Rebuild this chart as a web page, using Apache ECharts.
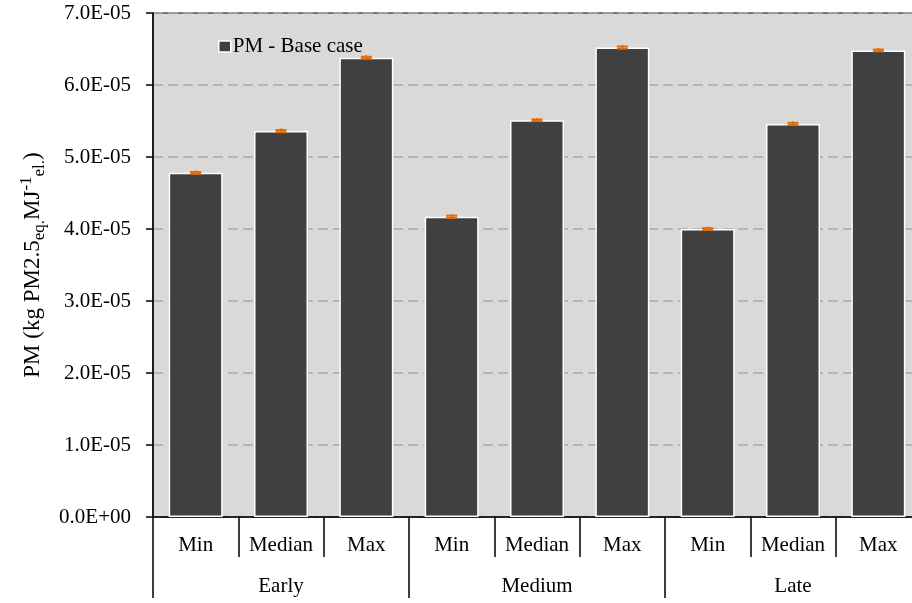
<!DOCTYPE html>
<html>
<head>
<meta charset="utf-8">
<script src="https://cdn.jsdelivr.net/npm/echarts@6/dist/echarts.min.js"></script>
<style>
  html, body { margin: 0; padding: 0; background: #ffffff; overflow: hidden; }
  #chart { width: 930px; height: 603px; }
</style>
</head>
<body>
<div id="chart"></div>
<script>
// Sub-categories (scenario) and their grouping (harvest time)
const categories = ['Min', 'Median', 'Max', 'Min', 'Median', 'Max', 'Min', 'Median', 'Max'];
const groups = ['Early', 'Medium', 'Late'];
// PM emissions, kg PM2.5 eq. per MJ electricity
const pmValues = [4.78e-5, 5.36e-5, 6.38e-5, 4.17e-5, 5.51e-5, 6.52e-5, 4.00e-5, 5.46e-5, 6.48e-5];
const pmErrors = [1.2e-7, 1.5e-7, 1.2e-7, 1.5e-7, 1.2e-7, 1.5e-7, 1.2e-7, 1.5e-7, 1.2e-7];
const seriesName = 'PM - Base case';

const FONT = "'Liberation Serif', 'Times New Roman', serif";

function sciLabel(v) {
  const s = Number(v).toExponential(1).toUpperCase(); // e.g. 7.0E-5
  const m = s.match(/^(-?[\d.]+)E([+-])(\d+)$/);
  if (!m) return s;
  const exp = m[3].length < 2 ? '0' + m[3] : m[3];
  return m[1] + 'E' + m[2] + exp;
}

const chart = echarts.init(document.getElementById('chart'), null, { renderer: 'canvas' });

const errorData = pmValues.map((v, i) => [i, v, pmErrors[i]]);

chart.setOption({
  animation: false,
  backgroundColor: '#ffffff',
  textStyle: { fontFamily: FONT, color: '#000' },
  grid: {
    left: 153, top: 13, right: 9, bottom: 86,
    show: true, backgroundColor: '#d9d9d9', borderColor: '#000', borderWidth: 1
  },
  legend: {
    data: [seriesName],
    left: 213, top: 31,
    itemWidth: 12, itemHeight: 11, itemGap: 5,
    icon: 'rect',
    itemStyle: { borderColor: '#ffffff', borderWidth: 1.5 },
    textStyle: { fontFamily: FONT, fontSize: 21, color: '#000', padding: [0, 0, 0, -3] }
  },
  xAxis: [
    {
      type: 'category',
      data: categories,
      position: 'bottom',
      axisLine: { show: true, lineStyle: { color: '#000', width: 1.5 } },
      axisTick: { show: true, length: 40, lineStyle: { color: '#000', width: 1.5 } },
      axisLabel: { fontFamily: FONT, fontSize: 21, color: '#000', margin: 18, interval: 0 },
      splitLine: { show: false }
    },
    {
      type: 'category',
      data: groups,
      position: 'bottom',
      axisLine: { show: false },
      axisTick: { show: true, length: 81, lineStyle: { color: '#000', width: 1.5 } },
      axisLabel: { fontFamily: FONT, fontSize: 21, color: '#000', margin: 59, interval: 0 },
      splitLine: { show: false }
    }
  ],
  yAxis: {
    type: 'value',
    min: 0, max: 7e-5, interval: 1e-5,
    axisLine: { show: true, lineStyle: { color: '#000', width: 1.5 } },
    axisTick: { show: true, length: 7, inside: false, lineStyle: { color: '#000', width: 1.5 } },
    axisLabel: { fontFamily: FONT, fontSize: 21, color: '#000', margin: 22, formatter: sciLabel },
    splitLine: { show: true, lineStyle: { color: '#a9a9a9', width: 1.5, type: [10, 5] } },
    name: 'PM (kg PM2.5{sub|eq.}{n|MJ}{sup|-1}{sub|el.}{n|)}',
    nameLocation: 'middle',
    nameRotate: 90,
    nameGap: 103,
    nameTextStyle: {
      fontFamily: FONT, fontSize: 23, color: '#000', lineHeight: 30,
      rich: {
        n: { fontFamily: FONT, fontSize: 23, color: '#000', lineHeight: 30 },
        sub: { fontFamily: FONT, fontSize: 17, color: '#000', verticalAlign: 'bottom', lineHeight: 20 },
        sup: { fontFamily: FONT, fontSize: 17, color: '#000', verticalAlign: 'top', lineHeight: 20 }
      }
    }
  },
  series: [
    {
      name: seriesName,
      type: 'bar',
      data: pmValues,
      barWidth: 54,
      itemStyle: { color: '#404040', borderColor: '#ffffff', borderWidth: 1.5 },
      z: 2
    },
    {
      name: 'error',
      type: 'custom',
      data: errorData,
      z: 5,
      renderItem: function (params, api) {
        const idx = api.value(0);
        const v = api.value(1);
        const e = api.value(2);
        const top = api.coord([idx, v + e]);
        const bot = api.coord([idx, v - e]);
        const half = 5.5;
        const style = { stroke: '#e36c09', lineWidth: 2 };
        return {
          type: 'group',
          children: [
            { type: 'line', shape: { x1: top[0], y1: top[1] - 1.5, x2: top[0], y2: bot[1] }, style: style },
            { type: 'line', shape: { x1: top[0] - half, y1: top[1], x2: top[0] + half, y2: top[1] }, style: style },
            { type: 'line', shape: { x1: bot[0] - half, y1: bot[1], x2: bot[0] + half, y2: bot[1] }, style: style }
          ]
        };
      }
    }
  ]
});
</script>
</body>
</html>
